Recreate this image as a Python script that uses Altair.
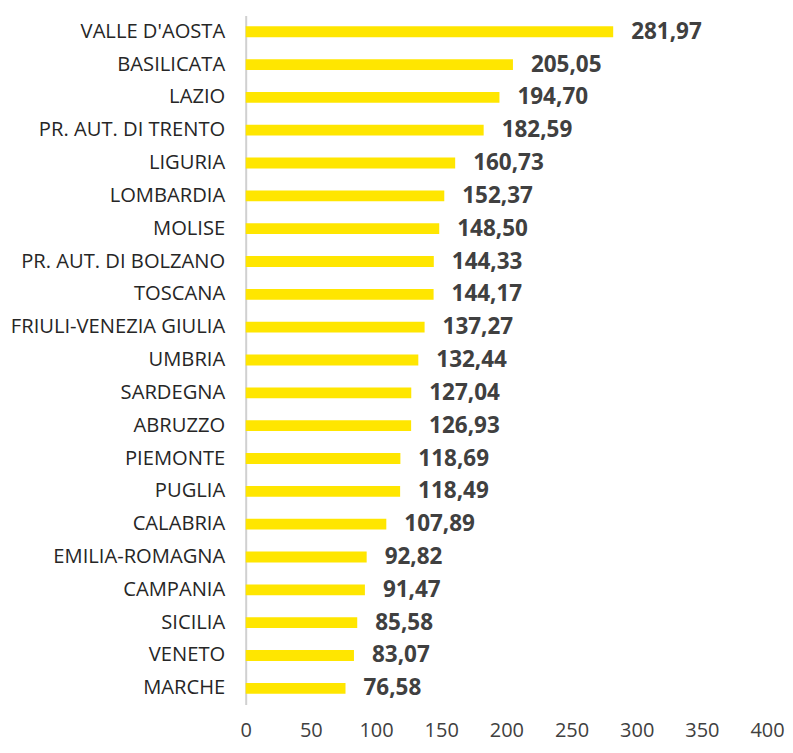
import altair as alt
import pandas as pd

regions = ["VALLE D'AOSTA", "BASILICATA", "LAZIO", "PR. AUT. DI TRENTO", "LIGURIA",
           "LOMBARDIA", "MOLISE", "PR. AUT. DI BOLZANO", "TOSCANA", "FRIULI-VENEZIA GIULIA",
           "UMBRIA", "SARDEGNA", "ABRUZZO", "PIEMONTE", "PUGLIA", "CALABRIA",
           "EMILIA-ROMAGNA", "CAMPANIA", "SICILIA", "VENETO", "MARCHE"]
values = [281.97, 205.05, 194.70, 182.59, 160.73, 152.37, 148.50, 144.33, 144.17, 137.27,
          132.44, 127.04, 126.93, 118.69, 118.49, 107.89, 92.82, 91.47, 85.58, 83.07, 76.58]
tick_values = [0, 50, 100, 150, 200, 250, 300, 350, 400]

df = pd.DataFrame({
    "region": regions,
    "value": values,
    "label": [f"{v:.2f}".replace(".", ",") for v in values],
})

FONT = "Open Sans"

base = alt.Chart(df).encode(
    y=alt.Y("region:N", sort=regions,
            scale=alt.Scale(paddingInner=0.67, paddingOuter=0.33),
            axis=alt.Axis(title=None, ticks=False, domain=True, domainColor="#D0D0D0",
                          domainWidth=2, labelFont=FONT, labelFontSize=20.2,
                          labelColor="#262626", labelPadding=21, labelLimit=400,
                          grid=False)),
    x=alt.X("value:Q", scale=alt.Scale(domain=[0, 400], nice=False),
            axis=alt.Axis(title=None, values=tick_values, ticks=False, domain=False,
                          grid=False, labelFont=FONT, labelFontSize=20,
                          labelColor="#404040", labelPadding=16, labelFlush=False)),
)

bars = base.mark_bar(color="#FFE600")
text = base.mark_text(align="left", dx=18, font=FONT, fontSize=22.5, fontWeight="bold",
                      color="#404040", baseline="middle").encode(text="label:N")

chart = (bars + text).properties(
    width=522, height=690,
    padding={"left": 2, "top": 7, "right": 0, "bottom": 4},
).configure_view(stroke=None)

chart.save("out.html", embed_options={"renderer": "svg", "actions": False})
